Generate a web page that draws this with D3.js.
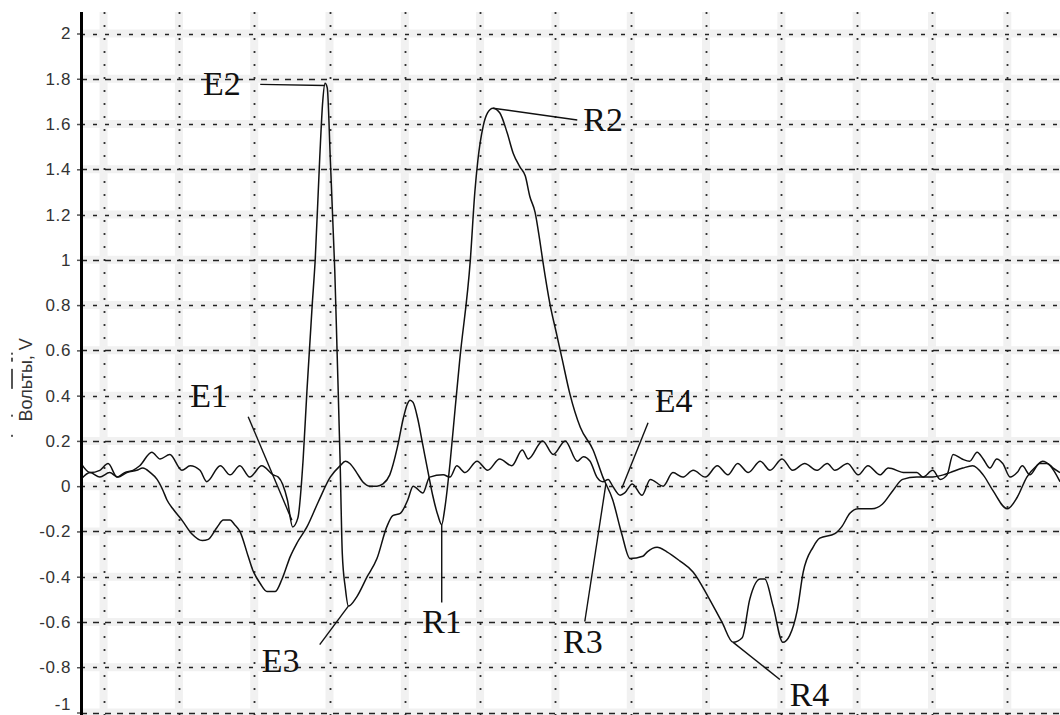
<!DOCTYPE html>
<html>
<head>
<meta charset="utf-8">
<script src="https://cdn.jsdelivr.net/npm/d3@7"></script>
<style>
  html, body { margin: 0; padding: 0; background: #fff; }
  svg { display: block; }
</style>
</head>
<body>
<svg id="chart" width="1060" height="715"></svg>
<script>
// Two recorded voltage traces (time in ms, grid every 10 ms)
const timeE = [-3.0,-1.8,-0.5,0.6,1.8,2.8,3.9,4.8,6.4,7.5,8.8,10.4,11.5,12.8,13.7,15.5,16.8,18.1,19.4,21.0,22.5,23.2,24.4,25.1,25.8,26.5,27.0,27.7,28.1,28.7,29.1,29.4,29.7,30.1,30.5,30.7,31.0,31.4,31.7,32.1,32.5,33.6,35.0,36.3,37.6,38.4,39.4,40.4,41.1,42.4,43.3,45.1,46.0,46.9,48.0,49.6,51.0,52.6,54.2,55.6,56.4,58.3,59.7,61.3,62.9,63.7,64.6,65.5,66.3,67.0,67.6,68.6,69.2,70.2,71.5,72.6,74.3,75.6,76.9,78.3,79.9,81.5,82.9,84.2,85.6,87.2,88.5,90.1,91.5,93.1,94.7,96.1,97.1,98.8,100.2,101.5,103.1,104.2,106.4,108.0,108.8,110.1,111.1,112.0,112.8,114.0,115.0,116.0,116.8,117.7,118.6,119.4,120.4,121.3,122.0,123.0,124.3,125.3,126.1,127.0];
const voltsE = [0.10,0.06,0.07,0.10,0.04,0.06,0.07,0.09,0.15,0.12,0.14,0.07,0.09,0.07,0.02,0.09,0.05,0.09,0.04,0.09,0.05,0.04,-0.06,-0.18,-0.14,0.12,0.42,0.80,1.00,1.45,1.70,1.78,1.76,1.45,1.12,0.95,0.60,0.12,-0.30,-0.45,-0.53,-0.49,-0.40,-0.32,-0.18,-0.13,-0.12,-0.06,0.00,-0.03,0.04,0.05,0.04,0.09,0.06,0.11,0.07,0.12,0.09,0.16,0.12,0.20,0.14,0.20,0.11,0.13,0.11,0.04,0.02,0.03,0.00,-0.04,-0.03,0.01,-0.04,0.03,0.00,0.06,0.04,0.07,0.04,0.09,0.05,0.10,0.06,0.11,0.07,0.12,0.07,0.10,0.07,0.10,0.07,0.10,0.05,0.09,0.05,0.08,0.06,0.06,0.04,0.07,0.03,0.05,0.14,0.12,0.11,0.15,0.12,0.08,0.12,0.10,0.04,0.06,0.09,0.05,0.10,0.10,0.08,0.06];

const timeR = [-3.0,-1.8,-0.5,0.8,1.9,3.1,4.4,5.2,6.2,7.1,7.9,8.4,9.2,10.4,11.7,13.1,13.9,15.1,15.9,16.8,17.4,18.1,19.2,19.8,20.8,21.7,22.8,23.7,24.8,25.7,27.0,28.5,30.1,31.4,32.1,32.7,33.6,34.4,35.4,36.3,37.1,38.0,39.0,39.8,40.3,40.7,41.1,41.7,42.4,43.1,43.7,44.4,44.9,45.3,46.0,46.7,47.3,48.7,49.3,49.7,50.4,51.0,51.7,52.6,53.6,54.4,55.3,56.0,56.6,57.3,57.9,58.3,59.3,60.1,60.9,61.9,63.3,65.0,66.3,67.6,68.8,69.9,71.6,72.2,73.5,74.8,76.5,78.3,80.3,82.1,83.6,84.8,85.8,87.2,87.8,88.9,90.2,91.1,92.1,92.9,94.2,95.1,97.1,98.0,99.1,100.2,102.0,103.4,104.8,106.1,108.0,109.7,111.5,112.4,114.1,115.4,116.8,118.1,120.0,121.3,122.6,123.9,124.7,125.7,127.0];
const voltsR = [0.03,0.06,0.04,0.06,0.04,0.06,0.07,0.08,0.06,0.03,-0.02,-0.06,-0.10,-0.15,-0.21,-0.24,-0.235,-0.18,-0.15,-0.15,-0.17,-0.20,-0.31,-0.37,-0.43,-0.465,-0.465,-0.41,-0.31,-0.25,-0.18,-0.07,0.04,0.09,0.11,0.10,0.06,0.02,0.00,0.00,0.01,0.05,0.17,0.30,0.36,0.38,0.37,0.30,0.18,0.06,-0.04,-0.13,-0.17,-0.10,0.10,0.35,0.56,1.00,1.30,1.44,1.59,1.65,1.67,1.65,1.56,1.47,1.41,1.37,1.28,1.21,1.09,1.00,0.80,0.68,0.56,0.41,0.26,0.16,0.04,-0.06,-0.21,-0.32,-0.31,-0.29,-0.27,-0.29,-0.33,-0.38,-0.49,-0.60,-0.69,-0.67,-0.50,-0.41,-0.41,-0.53,-0.69,-0.66,-0.55,-0.38,-0.27,-0.23,-0.21,-0.18,-0.12,-0.10,-0.10,-0.08,-0.02,0.03,0.04,0.04,0.05,0.06,0.08,0.09,0.05,-0.02,-0.10,-0.05,0.04,0.09,0.11,0.09,0.02];

// Axis ticks
const yTicks = [2,1.8,1.6,1.4,1.2,1,0.8,0.6,0.4,0.2,0,-0.2,-0.4,-0.6,-0.8,-1];
const yTickLabels = ["2","1.8","1.6","1.4","1.2","1","0.8","0.6","0.4","0.2","0","-0.2","-0.4","-0.6","-0.8","-1"];
const xGrid = [0,10,20,30,40,50,60,70,80,90,100,110,120];

// Marked points of the traces
const markLabels = ["E1","E2","E3","E4","R1","R2","R3","R4"];
const markTime  = [25.0, 29.4, 32.5, 68.8, 44.9, 51.7, 66.7, 83.6];
const markVolts = [-0.15, 1.77, -0.53, -0.01, -0.17, 1.67, 0.01, -0.69];

const W = 1060, H = 715;
const svg = d3.select("#chart");

const x = d3.scaleLinear().domain([-3, 127]).range([81, 1060]);
const y = d3.scaleLinear().domain([-1, 2]).range([712.5, 33.5]);
const gridTop = y(2.095);

// soft grey halo under the grid lines
const halo = svg.append("g").attr("stroke", "#f1f1f1").attr("stroke-width", 8);
halo.selectAll("line.hv").data(xGrid).join("line")
  .attr("x1", d => x(d)).attr("x2", d => x(d))
  .attr("y1", gridTop).attr("y2", H);
halo.selectAll("line.hh").data(yTicks).join("line")
  .attr("x1", x(-3)).attr("x2", W)
  .attr("y1", d => y(d)).attr("y2", d => y(d));

// grid
const grid = svg.append("g").attr("fill", "none");
grid.selectAll("line.v").data(xGrid).join("line")
  .attr("x1", d => Math.round(x(d)) + 0.5).attr("x2", d => Math.round(x(d)) + 0.5)
  .attr("y1", gridTop).attr("y2", H)
  .attr("stroke", "#333")
  .attr("stroke-width", 1.8)
  .attr("stroke-dasharray", "2,11");
grid.selectAll("line.h").data(yTicks).join("line")
  .attr("x1", x(-3)).attr("x2", W)
  .attr("y1", d => Math.round(y(d)) + 0.5).attr("y2", d => Math.round(y(d)) + 0.5)
  .attr("stroke", "#222")
  .attr("stroke-width", 1.6)
  .attr("stroke-dasharray", (d, i) => i % 2 === 0 ? "4,8" : "6,6");

// traces
svg.append("clipPath").attr("id", "plot-clip")
  .append("rect").attr("x", x(-3)).attr("y", 0).attr("width", W - x(-3)).attr("height", H);

const line = d3.line()
  .x(d => x(d[0])).y(d => y(d[1]))
  .curve(d3.curveMonotoneX);

const traces = [d3.zip(timeE, voltsE), d3.zip(timeR, voltsR)];
svg.append("g").attr("clip-path", "url(#plot-clip)")
  .selectAll("path").data(traces).join("path")
  .attr("d", line)
  .attr("fill", "none")
  .attr("stroke", "#111")
  .attr("stroke-width", 1.5)
  .attr("stroke-linejoin", "round");

// y axis
const yAxis = d3.axisLeft(y)
  .tickValues(yTicks)
  .tickFormat((d, i) => yTickLabels[i])
  .tickSize(4)
  .tickPadding(6);
const axisG = svg.append("g").attr("transform", `translate(${x(-3)},0)`).call(yAxis);
axisG.select(".domain").remove();
axisG.selectAll(".tick line").attr("stroke", "#555").attr("stroke-width", 1.5);
axisG.selectAll(".tick text")
  .attr("fill", "#333")
  .style("font-family", "'Liberation Sans', Arial, sans-serif")
  .style("font-size", "17px")
  .style("letter-spacing", "0.6px");
// keep the lowest label inside the bottom edge
axisG.selectAll(".tick text").filter(d => d === -1).attr("dy", "-0.2em");
svg.append("line")
  .attr("x1", x(-3) + 0.5).attr("x2", x(-3) + 0.5)
  .attr("y1", gridTop).attr("y2", H)
  .attr("stroke", "#000").attr("stroke-width", 3);

// y axis title
svg.append("text")
  .attr("transform", `translate(32,${y(0.47)}) rotate(-90)`)
  .attr("text-anchor", "middle")
  .attr("fill", "#333")
  .style("font-family", "'Liberation Sans', Arial, sans-serif")
  .style("font-size", "18px")
  .text("Вольты, V");
// small marker glyphs beside the title
const tick = svg.append("g").attr("fill", "#555");
[[y(0.55), 4], [y(0.43), 20], [y(0.307), 2], [y(0.218), 2]].forEach(([yy, h]) => {
  tick.append("rect").attr("x", 11).attr("y", yy - h).attr("width", 2).attr("height", h);
});
tick.append("rect").attr("x", 11).attr("y", y(0.55) - 9).attr("width", 2).attr("height", 2);

// annotation layout: label position and leader start, in data units
const labelLayout = {
  E1: { text: [11.5, 0.351],  from: [19.2, 0.307] },
  E2: { text: [13.2, 1.728],  from: [20.8, 1.775] },
  E3: { text: [21.0, -0.823], from: [28.7, -0.700] },
  E4: { text: [73.2, 0.329],  from: [72.3, 0.280] },
  R1: { text: [42.3, -0.647], from: [44.9, -0.514] },
  R2: { text: [63.7, 1.570],  from: [62.9, 1.618] },
  R3: { text: [61.0, -0.735], from: [63.9, -0.598] },
  R4: { text: [91.1, -0.973], from: [89.8, -0.854] }
};

const marks = markLabels.map((k, i) => ({ key: k, t: markTime[i], v: markVolts[i], ...labelLayout[k] }));
const ann = svg.append("g");
ann.selectAll("line").data(marks).join("line")
  .attr("x1", d => x(d.from[0])).attr("y1", d => y(d.from[1]))
  .attr("x2", d => x(d.t)).attr("y2", d => y(d.v))
  .attr("stroke", "#111").attr("stroke-width", 1.4);
ann.selectAll("text").data(marks).join("text")
  .attr("x", d => x(d.text[0])).attr("y", d => y(d.text[1]))
  .attr("fill", "#111")
  .style("font-family", "'Liberation Serif', 'Times New Roman', serif")
  .style("font-size", "34px")
  .text(d => d.key);
</script>
</body>
</html>
